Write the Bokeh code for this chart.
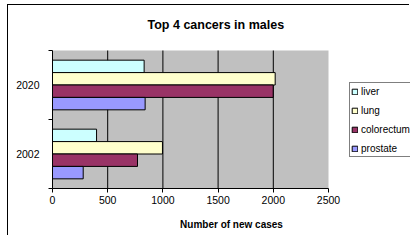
import numpy as np
from bokeh.plotting import figure
from bokeh.models import (FixedTicker, Legend, LegendItem, ColumnDataSource,
                          BoxAnnotation, InlineStyleSheet, Label)
from bokeh.transform import dodge
from bokeh.embed import file_html
from bokeh.resources import INLINE

# ---- data ----
title = "Top 4 cancers in males"
years = ["2002", "2020"]
cancers = ["liver", "lung", "colorectum", "prostate"]
liver = [399, 830]
lung = [996, 2017]
colorectum = [770, 1999]
prostate = [278, 839]
x_ticks = [0, 500, 1000, 1500, 2000, 2500]
grid_ticks = [500, 1000, 1500, 2000]

colors = ["#CCFFFF", "#FFFFCC", "#993366", "#9999FF"]
offsets = [0.27, 0.09, -0.09, -0.27]
FONT = "Liberation Sans"

# ---- layout (pixels) ----
W, H = 402, 231
LEFT, BOTTOM = 44, 48
AREA_TOP = 45          # pixel top of the grey value area
DATA_W = 276           # pixel width of the grey value area
frame_w = W - LEFT
frame_h = H - BOTTOM
x_end = x_ticks[-1] * frame_w / DATA_W
px_per_cat = (frame_h - AREA_TOP) / len(years)
y_end = len(years) + AREA_TOP / px_per_cat

def px_to_x(px):
    return (px - LEFT) * x_ticks[-1] / DATA_W

def py_to_y(py):
    return (frame_h - py) / px_per_cat

pos = np.arange(len(years)) + 0.5
src = ColumnDataSource(dict(pos=pos, liver=liver, lung=lung,
                            colorectum=colorectum, prostate=prostate))

p = figure(width=W, height=H, output_backend="svg", toolbar_location=None,
           title=None, x_range=(0, x_end), y_range=(0, y_end),
           min_border_left=LEFT, min_border_right=0,
           min_border_top=0, min_border_bottom=BOTTOM)
p.margin = (4, 0, 0, 7)
p.stylesheets = [InlineStyleSheet(
    css=":host { border-left: 1px solid black; border-top: 1px solid black; }")]

p.background_fill_color = "white"
p.border_fill_color = "white"
p.outline_line_color = None
p.xgrid.visible = False
p.ygrid.visible = False

# grey plot area (value range only)
area = BoxAnnotation(left=0, right=x_ticks[-1], bottom=0, top=len(years),
                     fill_color="#C0C0C0", fill_alpha=1, line_color=None,
                     level="image")
p.add_layout(area)

# vertical gridlines, limited to the value area
p.segment(x0=grid_ticks, x1=grid_ticks, y0=[0] * len(grid_ticks),
          y1=[len(years)] * len(grid_ticks), line_color="black",
          line_width=1, level="underlay")

renderers = []
for name, col, off in zip(cancers, colors, offsets):
    r = p.hbar(y=dodge("pos", off), left=0, right=name, height=0.18,
               fill_color=col, line_color="black", line_width=1, source=src)
    renderers.append(r)

# x axis
xa = p.xaxis[0]
xa.ticker = FixedTicker(ticks=x_ticks)
xa.bounds = (0, x_ticks[-1])
xa.axis_line_color = "black"
xa.major_tick_line_color = "black"
xa.major_tick_out = 4
xa.major_tick_in = 0
xa.minor_tick_line_color = None
xa.major_label_standoff = 3
xa.major_label_text_font = FONT
xa.major_label_text_font_size = "10.5px"
xa.major_label_text_color = "black"
xa.axis_label = "Number of new cases"
xa.axis_label_text_font = FONT
xa.axis_label_text_font_size = "10px"
xa.axis_label_text_font_style = "bold"
xa.axis_label_text_color = "black"
xa.axis_label_standoff = 12

# y axis (category boundaries as tick marks, labels in the middle)
ya = p.yaxis[0]
ya.ticker = FixedTicker(ticks=list(pos), minor_ticks=list(range(len(years) + 1)))
ya.major_label_overrides = {float(v): y for v, y in zip(pos, years)}
ya.bounds = (0, len(years))
ya.axis_line_color = "black"
ya.major_tick_line_color = None
ya.major_tick_out = 0
ya.major_tick_in = 0
ya.minor_tick_line_color = "black"
ya.minor_tick_out = 4
ya.minor_tick_in = 0
ya.major_label_standoff = 9
ya.major_label_text_font = FONT
ya.major_label_text_font_size = "10.5px"
ya.major_label_text_color = "black"

# title
p.add_layout(Label(x=px_to_x(139), y=py_to_y(19.5), text=title,
                   text_align="left", text_baseline="middle",
                   text_font=FONT, text_font_size="12.5px",
                   text_font_style="bold", text_color="black"))

# legend
items = [LegendItem(label=n, renderers=[r]) for n, r in zip(cancers, renderers)]
legend = Legend(items=items, location=(297, 31))
legend.glyph_width = 7
legend.glyph_height = 7
legend.label_height = 14
legend.spacing = 5
legend.padding = 1
legend.margin = 0
legend.label_standoff = 3
legend.label_text_font = FONT
legend.label_text_font_size = "10px"
legend.label_text_color = "black"
legend.border_line_color = "black"
legend.border_line_width = 1
legend.background_fill_color = "white"
legend.background_fill_alpha = 1
p.add_layout(legend)

open("out.html", "w").write(file_html(p, INLINE))
